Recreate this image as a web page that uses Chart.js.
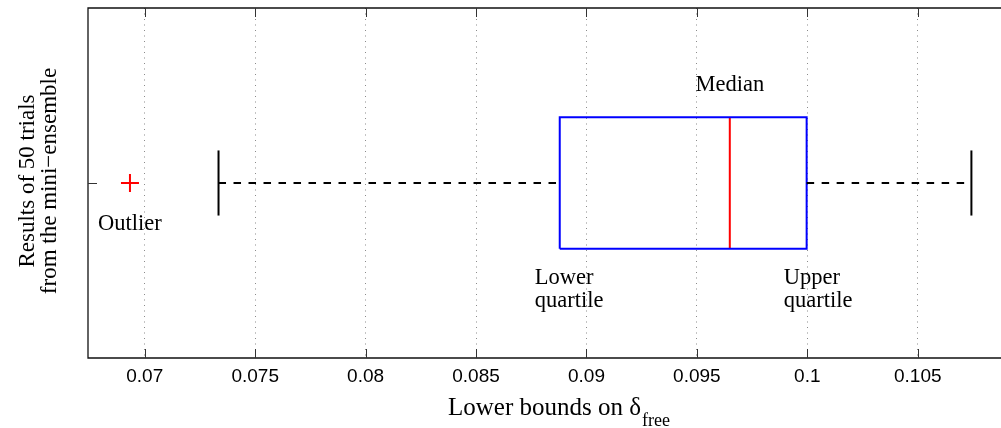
<!DOCTYPE html>
<html>
<head>
<meta charset="utf-8">
<script src="https://cdn.jsdelivr.net/npm/chart.js@4.4.1/dist/chart.umd.min.js"></script>
<style>
  html, body { margin: 0; padding: 0; background: #fff; }
  canvas { display: block; }
</style>
</head>
<body>
<canvas id="c" width="1001" height="428"></canvas>
<script>
// ---- data ----
const categories   = ['Results of 50 trials from the mini−ensemble'];
const lowerWhisker = [0.07334];
const lowerQuartile= [0.08879];
const medianValue  = [0.09649];
const upperQuartile= [0.09997];
const upperWhisker = [0.10743];
const outlierValues= [0.06933];
const xTickValues  = [0.07, 0.075, 0.08, 0.085, 0.09, 0.095, 0.1, 0.105];
const xTickLabels  = ['0.07', '0.075', '0.08', '0.085', '0.09', '0.095', '0.1', '0.105'];
const yTitleLines  = ['Results of 50 trials', 'from the mini−ensemble'];
const xTitleMain   = 'Lower bounds on δ';
const xTitleSub    = 'free';

// ---- styles / geometry (not data) ----
const X_MIN = 0.06743, X_MAX = 0.10877;
const BOX_HALF = 0.1877;   // in y-units around category position
const CAP_HALF = 0.093;
const SERIF = '"Liberation Serif", "Times New Roman", serif';
const SANS  = '"Liberation Sans", Arial, Helvetica, sans-serif';

const datasets = [];
categories.forEach((cat, i) => {
  const yc = 1 + i;
  const q1 = lowerQuartile[i], q3 = upperQuartile[i], md = medianValue[i];
  const wl = lowerWhisker[i], wh = upperWhisker[i];
  const line = (pts, color, dash) => ({
    type: 'scatter', showLine: true, data: pts, borderColor: color, backgroundColor: color,
    borderWidth: 2, borderDash: dash || [], pointRadius: 0, fill: false, tension: 0
  });
  datasets.push(line([{x: wl, y: yc}, {x: q1, y: yc}], '#000', [7.5, 7.5]));
  datasets.push(line([{x: q3, y: yc}, {x: wh, y: yc}], '#000', [7.5, 7.5]));
  datasets.push(line([{x: wl, y: yc - CAP_HALF}, {x: wl, y: yc + CAP_HALF}], '#000'));
  datasets.push(line([{x: wh, y: yc - CAP_HALF}, {x: wh, y: yc + CAP_HALF}], '#000'));
  datasets.push(line([{x: q1, y: yc - BOX_HALF}, {x: q3, y: yc - BOX_HALF}, {x: q3, y: yc + BOX_HALF},
                      {x: q1, y: yc + BOX_HALF}, {x: q1, y: yc - BOX_HALF}], '#0000ff'));
  datasets.push(line([{x: md, y: yc - BOX_HALF}, {x: md, y: yc + BOX_HALF}], '#ff0000'));
  datasets.push({
    type: 'scatter', showLine: false,
    data: outlierValues.map(v => ({x: v, y: yc})),
    pointStyle: 'cross', pointRadius: 9, borderColor: '#ff0000', borderWidth: 2,
    backgroundColor: '#ff0000'
  });
});

const decorPlugin = {
  id: 'decor',
  afterDraw(chart) {
    const ctx = chart.ctx, a = chart.chartArea;
    const xs = chart.scales.x, ys = chart.scales.y;
    ctx.save();
    // frame
    ctx.strokeStyle = '#111'; ctx.lineWidth = 1.3;
    ctx.beginPath();
    ctx.moveTo(a.right + 2, a.top); ctx.lineTo(a.left, a.top);
    ctx.lineTo(a.left, a.bottom); ctx.lineTo(a.right + 2, a.bottom);
    ctx.stroke();
    // inward ticks
    ctx.strokeStyle = '#333'; ctx.lineWidth = 1;
    xTickValues.forEach(v => {
      const px = Math.round(xs.getPixelForValue(v)) + 0.5;
      ctx.beginPath();
      ctx.moveTo(px, a.bottom); ctx.lineTo(px, a.bottom - 9);
      ctx.moveTo(px, a.top); ctx.lineTo(px, a.top + 9);
      ctx.stroke();
    });
    categories.forEach((c, i) => {
      const py = Math.round(ys.getPixelForValue(1 + i)) + 0.5;
      ctx.beginPath(); ctx.moveTo(a.left, py); ctx.lineTo(a.left + 9, py); ctx.stroke();
    });

    // annotations
    ctx.fillStyle = '#000';
    ctx.font = '22.5px ' + SERIF;
    ctx.textBaseline = 'alphabetic';
    const yc = ys.getPixelForValue(1);
    const boxTop = ys.getPixelForValue(1 + BOX_HALF);
    const boxBot = ys.getPixelForValue(1 - BOX_HALF);
    ctx.textAlign = 'center';
    ctx.fillText('Median', xs.getPixelForValue(medianValue[0]), boxTop - 26);
    ctx.fillText('Outlier', xs.getPixelForValue(outlierValues[0]), yc + 47);
    ctx.textAlign = 'left';
    const lq = xs.getPixelForValue(lowerQuartile[0]) - 25;
    const uq = xs.getPixelForValue(upperQuartile[0]) - 23;
    ctx.fillText('Lower', lq, boxBot + 35);
    ctx.fillText('quartile', lq, boxBot + 58);
    ctx.fillText('Upper', uq, boxBot + 35);
    ctx.fillText('quartile', uq, boxBot + 58);

    // x title with subscript
    ctx.font = '25px ' + SERIF;
    const wMain = ctx.measureText(xTitleMain).width;
    ctx.font = '18px ' + SERIF;
    const wSub = ctx.measureText(xTitleSub).width;
    const cx = 559;
    const startX = cx - (wMain + 1 + wSub) / 2;
    ctx.font = '25px ' + SERIF;
    ctx.fillText(xTitleMain, startX, 415);
    ctx.font = '18px ' + SERIF;
    ctx.fillText(xTitleSub, startX + wMain + 1, 426);

    // y title (rotated)
    ctx.font = '23px ' + SERIF;
    ctx.textAlign = 'center';
    const midY = (a.top + a.bottom) / 2 - 2;
    [34, 56].forEach((bx, k) => {
      ctx.save();
      ctx.translate(bx, midY);
      ctx.rotate(-Math.PI / 2);
      ctx.fillText(yTitleLines[k], 0, 0);
      ctx.restore();
    });
    ctx.restore();
  }
};

new Chart(document.getElementById('c'), {
  type: 'scatter',
  data: { datasets },
  options: {
    responsive: false,
    animation: false,
    events: [],
    layout: { autoPadding: false, padding: { left: 88, top: 8, right: 0, bottom: 0 } },
    plugins: { legend: { display: false }, tooltip: { enabled: false } },
    scales: {
      x: {
        type: 'linear', min: X_MIN, max: X_MAX,
        afterFit(s) { s.height = 70; s.paddingLeft = 0; s.paddingRight = 0; },
        afterBuildTicks(s) { s.ticks = xTickValues.map(v => ({ value: v })); },
        grid: { color: '#8a8a8a', lineWidth: 1, drawTicks: false },
        border: { display: false, dash: [1, 4.5] },
        ticks: {
          includeBounds: false, padding: 7, color: '#000',
          font: { family: SANS, size: 19 },
          maxRotation: 0, autoSkip: false,
          callback(v) {
            const k = xTickValues.findIndex(t => Math.abs(t - v) < 1e-9);
            return k >= 0 ? xTickLabels[k] : '';
          }
        }
      },
      y: { type: 'linear', min: 0.5, max: 1.5, display: false }
    }
  },
  plugins: [decorPlugin]
});
</script>
</body>
</html>
